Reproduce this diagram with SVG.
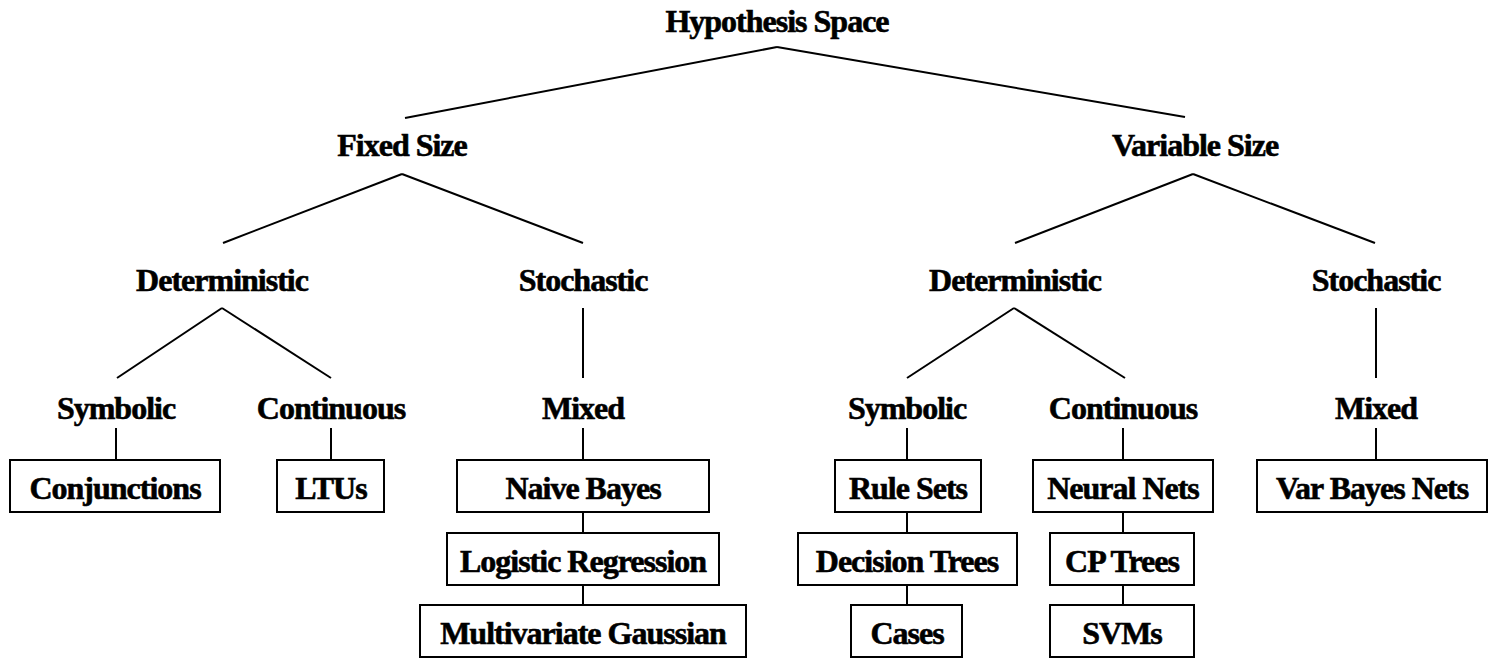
<svg xmlns="http://www.w3.org/2000/svg" width="1489" height="663" viewBox="0 0 1489 663">
<style>
text{font-family:"Liberation Serif","Times New Roman",serif;font-weight:bold;font-size:32px;letter-spacing:-1px;text-anchor:middle;fill:#000;stroke:#000;stroke-width:0.6}
.box{fill:#fff;stroke:#000;stroke-width:2}
.c line{stroke:#000;stroke-width:2}
</style>
<rect width="1489" height="663" fill="#fff"/>
<g class="c" id="connectors">
<line x1="405" y1="118" x2="777" y2="47"/><line x1="777" y1="47" x2="1185" y2="117"/>
<line x1="223" y1="243" x2="402" y2="174"/><line x1="402" y1="174" x2="583" y2="243"/>
<line x1="1015" y1="243" x2="1193" y2="174"/><line x1="1193" y1="174" x2="1375" y2="243"/>
<line x1="117" y1="378" x2="222" y2="308"/><line x1="222" y1="308" x2="331" y2="378"/>
<line x1="583" y1="308" x2="583" y2="378"/>
<line x1="907" y1="378" x2="1014" y2="308"/><line x1="1014" y1="308" x2="1125" y2="378"/>
<line x1="1376" y1="308" x2="1376" y2="378"/>
<line x1="116" y1="428" x2="116" y2="460"/>
<line x1="331" y1="428" x2="331" y2="460"/>
<line x1="583" y1="428" x2="583" y2="460"/>
<line x1="583" y1="512" x2="583" y2="533"/>
<line x1="583" y1="585" x2="583" y2="605"/>
<line x1="907" y1="428" x2="907" y2="460"/>
<line x1="907" y1="512" x2="907" y2="533"/>
<line x1="907" y1="585" x2="907" y2="605"/>
<line x1="1123" y1="428" x2="1123" y2="460"/>
<line x1="1123" y1="512" x2="1123" y2="533"/>
<line x1="1123" y1="585" x2="1123" y2="605"/>
<line x1="1376" y1="428" x2="1376" y2="460"/>
</g>
<g id="hypothesis-space"><text x="777" y="32">Hypothesis Space</text></g>
<g id="fixed-size"><text x="402" y="156">Fixed Size</text></g>
<g id="variable-size"><text x="1195" y="156">Variable Size</text></g>
<g id="fixed-deterministic"><text x="222" y="291">Deterministic</text></g>
<g id="fixed-stochastic"><text x="583" y="291">Stochastic</text></g>
<g id="var-deterministic"><text x="1015" y="291">Deterministic</text></g>
<g id="var-stochastic"><text x="1376" y="291">Stochastic</text></g>
<g id="fixed-symbolic"><text x="116" y="419">Symbolic</text></g>
<g id="fixed-continuous"><text x="331" y="419">Continuous</text></g>
<g id="fixed-mixed"><text x="583" y="419">Mixed</text></g>
<g id="var-symbolic"><text x="907" y="419">Symbolic</text></g>
<g id="var-continuous"><text x="1123" y="419">Continuous</text></g>
<g id="var-mixed"><text x="1376" y="419">Mixed</text></g>
<g id="conjunctions"><rect class="box" x="10" y="460" width="210" height="52"/><text x="115" y="499">Conjunctions</text></g>
<g id="ltus"><rect class="box" x="277" y="460" width="107" height="52"/><text x="331" y="499">LTUs</text></g>
<g id="naive-bayes"><rect class="box" x="457" y="460" width="252" height="52"/><text x="583" y="499">Naive Bayes</text></g>
<g id="logistic-regression"><rect class="box" x="447" y="533" width="272" height="52"/><text x="583" y="572">Logistic Regression</text></g>
<g id="multivariate-gaussian"><rect class="box" x="420" y="605" width="326" height="52"/><text x="583" y="644">Multivariate Gaussian</text></g>
<g id="rule-sets"><rect class="box" x="835" y="460" width="146" height="52"/><text x="908" y="499">Rule Sets</text></g>
<g id="decision-trees"><rect class="box" x="798" y="533" width="219" height="52"/><text x="907" y="572">Decision Trees</text></g>
<g id="cases"><rect class="box" x="851" y="605" width="111" height="52"/><text x="907" y="644">Cases</text></g>
<g id="neural-nets"><rect class="box" x="1033" y="460" width="180" height="52"/><text x="1123" y="499">Neural Nets</text></g>
<g id="cp-trees"><rect class="box" x="1050" y="533" width="144" height="52"/><text x="1122" y="572">CP Trees</text></g>
<g id="svms"><rect class="box" x="1050" y="605" width="144" height="52"/><text x="1122" y="644">SVMs</text></g>
<g id="var-bayes-nets"><rect class="box" x="1257" y="460" width="230" height="52"/><text x="1372" y="499">Var Bayes Nets</text></g>
</svg>
